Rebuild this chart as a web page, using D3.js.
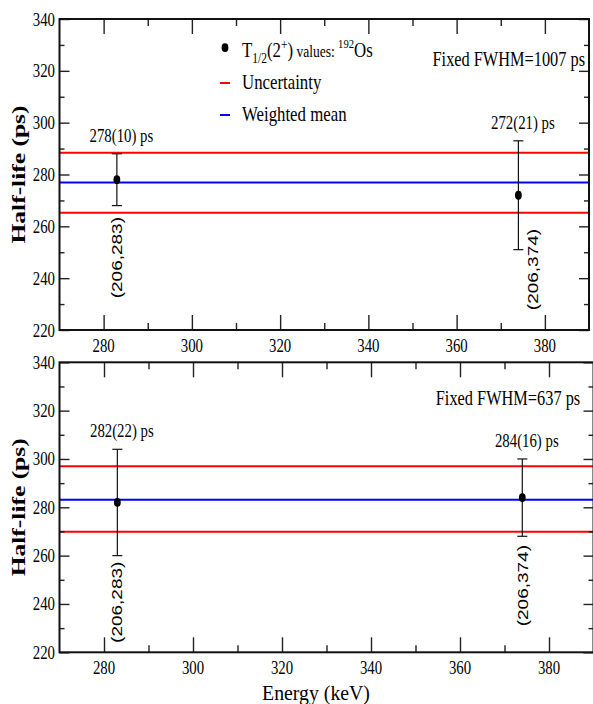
<!DOCTYPE html>
<html><head><meta charset="utf-8">
<script src="https://cdn.jsdelivr.net/npm/d3@7"></script>
<style>body{margin:0;background:#fff}</style>
</head><body>
<svg id="c" width="593" height="704"></svg>
<script>
// ---------- data ----------
const energiesTop = [283, 374];
const energiesBottom = [283, 374];
const topHalfLife = [278, 272];
const topError = [10, 21];
const bottomHalfLife = [282, 284];
const bottomError = [22, 16];
const topMean = 276.9;
const topBand = [265.2, 288.4];
const bottomMean = 283.1;
const bottomBand = [269.9, 297.0];
const xTicks = [280, 300, 320, 340, 360, 380];
const xMinorTicks = [290, 310, 330, 350, 370];
const yTicks = [220, 240, 260, 280, 300, 320, 340];
const yMinorTicks = [230, 250, 270, 290, 310, 330];
const topValueLabels = ["278(10) ps", "272(21) ps"];
const bottomValueLabels = ["282(22) ps", "284(16) ps"];
const gateLabels = ["(206,283)", "(206,374)"];
const topGateAnchors = [[283.0, 263.6], [377.3, 259.0]];
const bottomGateAnchors = [[283.0, 257.5], [374.2, 264.4]];
const fwhmLabels = ["Fixed FWHM=1007 ps", "Fixed FWHM=637 ps"];
const fwhmAnchors = [[389.1, 321.9], [387.0, 322.3]];
const legendLabels = ["Uncertainty", "Weighted mean"];
const xDomain = [270, 390];
const yDomain = [220, 340];

// ---------- setup ----------
const SERIF = "'Liberation Serif','Times New Roman',serif";
const SANS = "'Liberation Sans',Arial,sans-serif";
const SX = 0.76;
const svg = d3.select("#c");

function stext(parent, x, y, str, o) {
  const g = parent.append("g")
    .attr("transform", `translate(${x},${y}) scale(${o.sx || SX},1)` + (o.rot ? ` rotate(${o.rot})` : ""));
  const t = g.append("text")
    .attr("font-family", o.family || SERIF)
    .attr("font-size", o.size)
    .attr("text-anchor", o.anchor || "start")
    .attr("font-weight", o.weight || "normal")
    .attr("fill", "#000");
  if (o.baseline) t.attr("dominant-baseline", o.baseline);
  t.text(str);
  return t;
}

const panels = [
  { top: 19, bottom: 330, left: 59.5, right: 589, energies: energiesTop, hl: topHalfLife, err: topError,
    mean: topMean, band: topBand, labels: topValueLabels, gates: topGateAnchors, fwhm: 0, legend: true },
  { top: 362.3, bottom: 652.3, left: 59.5, right: 593.5, energies: energiesBottom, hl: bottomHalfLife, err: bottomError,
    mean: bottomMean, band: bottomBand, labels: bottomValueLabels, gates: bottomGateAnchors, fwhm: 1, legend: false }
];

panels.forEach((p, pi) => {
  const x = d3.scaleLinear().domain(xDomain).range([p.left, p.right]);
  const y = d3.scaleLinear().domain(yDomain).range([p.bottom, p.top]);
  const g = svg.append("g");
  const clipId = "clip" + pi;
  svg.append("clipPath").attr("id", clipId).append("rect")
    .attr("x", p.left).attr("y", p.top).attr("width", p.right - p.left).attr("height", p.bottom - p.top);

  // horizontal lines
  const lines = g.append("g").attr("clip-path", `url(#${clipId})`);
  p.band.forEach(v => lines.append("line").attr("x1", p.left).attr("x2", p.right)
    .attr("y1", y(v)).attr("y2", y(v)).attr("stroke", "#ff0000").attr("stroke-width", 2));
  lines.append("line").attr("x1", p.left).attr("x2", p.right)
    .attr("y1", y(p.mean)).attr("y2", y(p.mean)).attr("stroke", "#0000ff").attr("stroke-width", 2);

  // axes (ticks inward)
  function styleAxis(sel) {
    sel.select(".domain").remove();
    sel.selectAll("line").attr("stroke", "#222").attr("stroke-width", 1.4);
    sel.selectAll("text").remove();
  }
  const mk = (axis, scale, vals, len) => axis(scale).tickValues(vals).tickSizeInner(-len).tickSizeOuter(0).tickFormat("");
  g.append("g").attr("transform", `translate(0,${p.bottom})`).call(mk(d3.axisBottom, x, xTicks, 15)).call(styleAxis);
  g.append("g").attr("transform", `translate(0,${p.bottom})`).call(mk(d3.axisBottom, x, xMinorTicks, 7)).call(styleAxis);
  g.append("g").attr("transform", `translate(0,${p.top})`).call(mk(d3.axisTop, x, xTicks, 15)).call(styleAxis);
  g.append("g").attr("transform", `translate(0,${p.top})`).call(mk(d3.axisTop, x, xMinorTicks, 7)).call(styleAxis);
  g.append("g").attr("transform", `translate(${p.left},0)`).call(mk(d3.axisLeft, y, yTicks, 10)).call(styleAxis);
  g.append("g").attr("transform", `translate(${p.left},0)`).call(mk(d3.axisLeft, y, yMinorTicks, 5)).call(styleAxis);
  g.append("g").attr("transform", `translate(${p.right},0)`).call(mk(d3.axisRight, y, yTicks, 10)).call(styleAxis);
  g.append("g").attr("transform", `translate(${p.right},0)`).call(mk(d3.axisRight, y, yMinorTicks, 5)).call(styleAxis);

  // frame
  g.append("rect").attr("x", p.left).attr("y", p.top).attr("width", p.right - p.left).attr("height", p.bottom - p.top)
    .attr("fill", "none").attr("stroke", "#111").attr("stroke-width", 2);

  // tick labels
  xTicks.forEach(t => stext(g, x(t), p.bottom + 22, String(t), { size: 19.5, anchor: "middle" }));
  yTicks.forEach(t => stext(g, p.left - 4.5, y(t) + 6.5, String(t), { size: 19.5, anchor: "end" }));

  // error bars + points
  p.energies.forEach((e, i) => {
    const cx = x(e), lo = y(p.hl[i] - p.err[i]), hi = y(p.hl[i] + p.err[i]);
    g.append("line").attr("x1", cx).attr("x2", cx).attr("y1", lo).attr("y2", hi).attr("stroke", "#111").attr("stroke-width", 1.2);
    [lo, hi].forEach(yy => g.append("line").attr("x1", cx - 5).attr("x2", cx + 5).attr("y1", yy).attr("y2", yy)
      .attr("stroke", "#111").attr("stroke-width", 1.2));
    g.append("ellipse").attr("cx", cx).attr("cy", y(p.hl[i])).attr("rx", 3.4).attr("ry", 4.4).attr("fill", "#000");
    stext(g, cx + 4.5, hi - 12, p.labels[i], { size: 19.5, anchor: "middle" });
    const ga = p.gates[i];
    stext(g, x(ga[0]), y(ga[1]), gateLabels[i], { size: 19, anchor: "end", family: SANS, rot: -90, baseline: "central" });
  });

  // FWHM
  const fa = fwhmAnchors[p.fwhm];
  stext(g, x(fa[0]), y(fa[1]), fwhmLabels[p.fwhm], { size: 21.5, anchor: "end" });

  // y title
  stext(g, 19, (p.top + p.bottom) / 2, "Half-life (ps)", { size: 25.5, anchor: "middle", weight: "bold", rot: -90, baseline: "central" });

  // legend
  if (p.legend) {
    const LX = 0.82;
    g.append("ellipse").attr("cx", 225).attr("cy", 47.7).attr("rx", 3.4).attr("ry", 4.4).attr("fill", "#000");
    const lg = g.append("g").attr("transform", `translate(242,56.5) scale(${LX},1)`);
    const t = lg.append("text").attr("font-family", SERIF).attr("font-size", 20.5).attr("fill", "#000");
    t.append("tspan").text("T");
    t.append("tspan").attr("font-size", 14).attr("dy", 6).text("1/2");
    t.append("tspan").attr("dy", -6).text("(2");
    t.append("tspan").attr("font-size", 14).attr("dy", -8).text("+");
    t.append("tspan").attr("dy", 8).text(")");
    t.append("tspan").attr("font-size", 16.5).text(" values: ");
    t.append("tspan").attr("font-size", 13).attr("dy", -9).text("192");
    t.append("tspan").attr("dy", 9).text("Os");
    const colors = ["#ff0000", "#0000ff"];
    legendLabels.forEach((lab, i) => {
      const yy = 83 + i * 32;
      g.append("line").attr("x1", 220).attr("x2", 230).attr("y1", yy).attr("y2", yy).attr("stroke", colors[i]).attr("stroke-width", 2);
      stext(g, 242, yy + 5.5, lab, { size: 20.5, sx: LX });
    });
  }
});

// x title
stext(svg, 316, 700, "Energy (keV)", { size: 22, anchor: "middle", sx: 0.9 });
</script>
</body></html>
